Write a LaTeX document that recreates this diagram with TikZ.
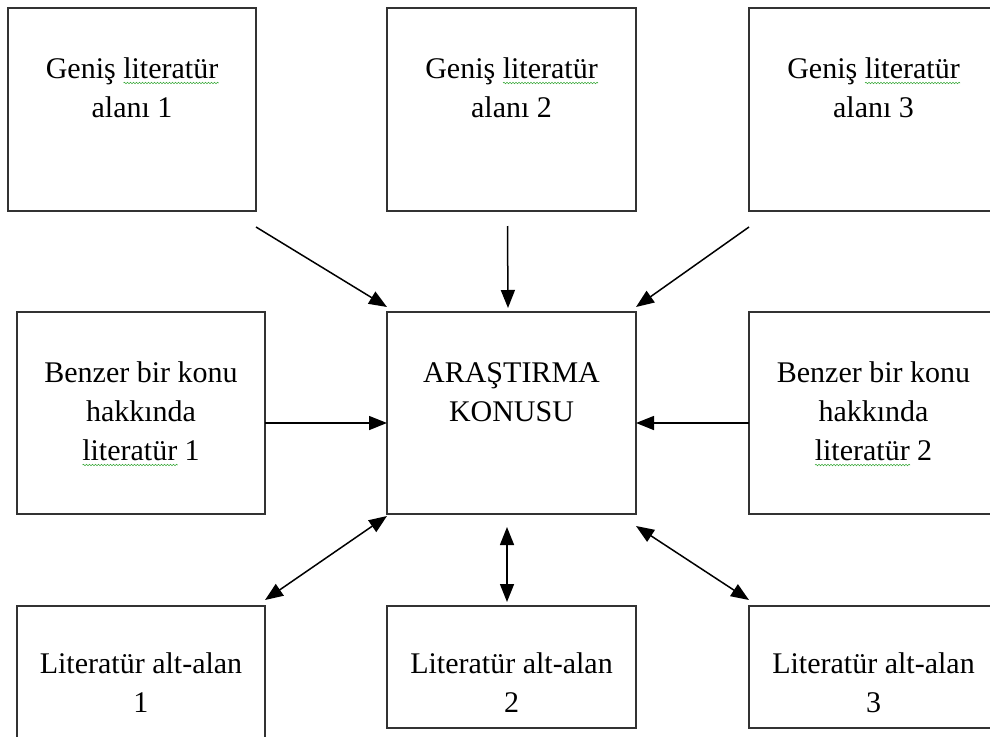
\documentclass[tikz,border=0pt]{standalone}
\usepackage{fontspec}
\setmainfont{Liberation Serif}
\usetikzlibrary{arrows.meta,decorations.pathmorphing}
\definecolor{wavegreen}{RGB}{60,170,60}
\definecolor{boxline}{RGB}{50,50,50}
\newsavebox\gwbox
\newdimen\gwlen
\newcommand\gwave[1]{\sbox\gwbox{#1}\gwlen=\wd\gwbox
  \rlap{\tikz[baseline=0pt]\draw[wavegreen, line width=0.6pt, decorate,
    decoration={snake, amplitude=0.8pt, segment length=3pt}]
    (0pt,-5pt) -- (\the\gwlen,-5pt);}\usebox\gwbox}
\tikzset{
  box/.style={draw=boxline, line width=1.4pt, rectangle, inner sep=0pt, outer sep=0pt},
  wide/.style={minimum width=249pt},
  boxtext/.style={anchor=base, inner sep=0pt, font=\fontsize{30}{39}\selectfont},
  conn/.style={line width=1.5pt, black, -{Triangle[length=18pt,width=14pt]}},
  bconn/.style={line width=1.5pt, black, {Triangle[length=18pt,width=14pt]}-{Triangle[length=18pt,width=14pt]}}
}
\newcommand\lines[1]{\begin{tabular}[t]{@{}c@{}}#1\end{tabular}}
\begin{document}
\begin{tikzpicture}[x=1pt,y=-1pt]
\useasboundingbox (0,0) rectangle (990,736);
% boxes
\node[box, minimum width=248pt, minimum height=203pt] (g1) at (132,109.5) {};
\node[box, wide, minimum height=203pt] (g2) at (511.5,109.5) {};
\node[box, wide, minimum height=203pt] (g3) at (873.5,109.5) {};
\node[box, minimum width=248pt, minimum height=202pt] (b1) at (141,413) {};
\node[box, wide, minimum height=202pt] (c) at (511.5,413) {};
\node[box, wide, minimum height=202pt] (b2) at (873.5,413) {};
\node[box, minimum width=248pt, minimum height=160pt] (a1) at (141,686) {};
\node[box, wide, minimum height=122pt] (a2) at (511.5,667) {};
\node[box, wide, minimum height=122pt] (a3) at (873.5,667) {};
% texts
\node[boxtext] (tg1) at (132,78) {\lines{Geniş \gwave{literatür}\\alanı 1}};
\node[boxtext] (tg2) at (511.5,78) {\lines{Geniş \gwave{literatür}\\alanı 2}};
\node[boxtext] (tg3) at (873.5,78) {\lines{Geniş \gwave{literatür}\\alanı 3}};
\node[boxtext] (tb1) at (141,382) {\lines{Benzer bir konu\\hakkında\\\gwave{literatür} 1}};
\node[boxtext] (tc) at (511.5,382) {\lines{ARAŞTIRMA\\KONUSU}};
\node[boxtext] (tb2) at (873.5,382) {\lines{Benzer bir konu\\hakkında\\\gwave{literatür} 2}};
\node[boxtext] (ta1) at (141,673) {\lines{Literatür alt-alan\\1}};
\node[boxtext] (ta2) at (511.5,673) {\lines{Literatür alt-alan\\2}};
\node[boxtext] (ta3) at (873.5,673) {\lines{Literatür alt-alan\\3}};
% connectors
\draw[conn] ([yshift=-16pt]g1.south east) -- ([yshift=5pt]c.north west);
\draw[conn] ([xshift=-4pt,yshift=-15pt]g2.south) -- ([xshift=-3.5pt,yshift=4pt]c.north);
\draw[conn] ([yshift=-16pt]g3.south west) -- ([yshift=5pt]c.north east);
\draw[conn] ([yshift=-10pt]b1.east) -- ([yshift=-10pt]c.west);
\draw[conn] ([yshift=-10pt]b2.west) -- ([yshift=-10pt]c.east);
\draw[bconn] ([yshift=6pt]a1.north east) -- ([yshift=-2pt]c.south west);
\draw[bconn] ([xshift=-4.5pt,yshift=-13pt]c.south) -- ([xshift=-4.5pt,yshift=4pt]a2.north);
\draw[bconn] ([yshift=-12pt]c.south east) -- ([yshift=6pt]a3.north west);
\end{tikzpicture}
\end{document}
